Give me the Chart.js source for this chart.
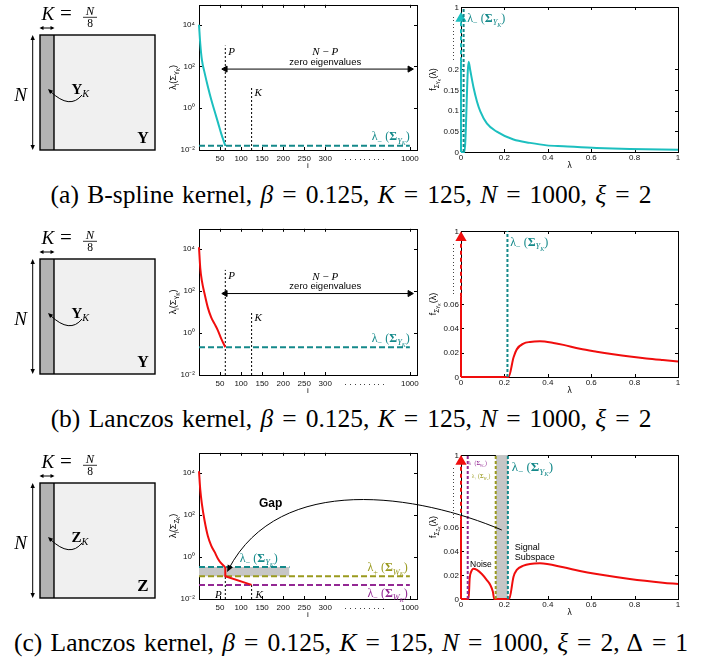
<!DOCTYPE html>
<html lang="en">
<head>
<meta charset="UTF-8" />
<title>Eigenvalue spectra of kernel matrices</title>
<script src="https://cdn.jsdelivr.net/npm/chart.js"></script>
<style>
  body { margin: 0; background: #fff; }
  #page { position: relative; width: 702px; height: 666px; overflow: hidden; }
  #page canvas { position: absolute; }
  .cap {
    position: absolute; left: 0; width: 702px; text-align: center;
    font-family: 'Liberation Serif', 'Times New Roman', serif;
    font-size: 25.5px; line-height: 28px; color: #000; white-space: nowrap; word-spacing: 2px;
  }
  .cap .eq { margin: 0 9px; }
  #overlay { z-index: 5; pointer-events: none; }
</style>
</head>
<body>
<div id="page">
  <canvas id="overlay" width="702" height="666" style="left:0;top:0"></canvas>
  <div class="cap" style="top:181px">(a) B-spline kernel, <i>β</i><span class="eq">=</span>0.125, <i>K</i><span class="eq">=</span>125, <i>N</i><span class="eq">=</span>1000, <i>ξ</i><span class="eq">=</span>2</div>
  <div class="cap" style="top:405px">(b) Lanczos kernel, <i>β</i><span class="eq">=</span>0.125, <i>K</i><span class="eq">=</span>125, <i>N</i><span class="eq">=</span>1000, <i>ξ</i><span class="eq">=</span>2</div>
  <div class="cap" style="top:629px">(c) Lanczos kernel, <i>β</i><span class="eq">=</span>0.125, <i>K</i><span class="eq">=</span>125, <i>N</i><span class="eq">=</span>1000, <i>ξ</i><span class="eq">=</span>2, Δ<span class="eq">=</span>1</div>
</div>

<script>
  // ---- left panels: eigenvalues lambda_i against index i (log y) ----
  const eigI = [0, 3, 7, 13.5, 21, 29, 37, 45, 53, 62.5];
  const eigA = [10000, 1230, 200, 48, 11, 2.6, 0.74, 0.21, 0.059, 0.016];
  const eigB = [12000, 1230, 290, 69, 16, 5.5, 2.7, 1.3, 0.52, 0.21];
  const eigC = [12000, 1580, 316, 50, 10, 3.5, 1.74, 0.83, 0.49, 0.33];
  const tailI = [62.5, 62.5, 125];
  const tailC = [0.33, 0.12, 0.047];

  const P = 62.5, K = 125;
  const N_POS = 501;   // the i axis is broken after 300, i = 1000 sits here
  const xTickVals = [50, 100, 150, 200, 250, 300, N_POS];
  const xTickText = ['50', '100', '150', '200', '250', '300', '1000'];
  const logTickVals = [0.01, 1, 100, 10000];
  const logTickText = ['10⁻²', '10⁰', '10²', '10⁴'];

  const lamMinYa = 0.016, lamMinYb = 0.21, lamMinYc = 0.33;
  const lamPlusWc = 0.12, lamMinWc = 0.046;
  const zeroArrowY = 75;

  // ---- right panels: eigenvalue densities f(lambda) ----
  const lamA = [0, 0.016, 0.035, 0.043, 0.058, 0.0735, 0.089, 0.119, 0.165, 0.242, 0.318, 0.395, 0.472, 0.625, 0.778, 1.0];
  const fA   = [0, 0, 0.218, 0.196, 0.155, 0.122, 0.098, 0.069, 0.049, 0.030, 0.022, 0.016, 0.0139, 0.0098, 0.0073, 0.0057];
  const lamB = [0, 0.219, 0.242, 0.257, 0.288, 0.318, 0.364, 0.426, 0.472, 0.548, 0.625, 0.701, 0.778, 0.854, 0.93, 1.0];
  const fB   = [0, 0, 0.016, 0.0227, 0.0275, 0.0288, 0.0293, 0.028, 0.0264, 0.0232, 0.0208, 0.0187, 0.0168, 0.0152, 0.0139, 0.0128];
  const lamC = [0, 0.035, 0.04, 0.047, 0.058, 0.0735, 0.096, 0.119, 0.135, 0.147, 0.153, 0.222, 0.242, 0.257, 0.288, 0.318, 0.364, 0.472, 0.548, 0.625, 0.778, 0.93, 1.0];
  const fC   = [0, 0, 0.0172, 0.0228, 0.0253, 0.0242, 0.0208, 0.0158, 0.0117, 0.006, 0, 0, 0.0186, 0.0242, 0.0278, 0.0292, 0.0297, 0.0264, 0.0233, 0.0208, 0.0167, 0.0136, 0.0125];

  const edgeA = 0.012, edgeB = 0.214;
  const edgeMinW = 0.031, edgePlusW = 0.16, edgeMinY = 0.216;
  const spikeA = [0, 0.219, 0.322], spikeBC = [0, 0.066, 0.1145];
  const breakA = [0.219, 0.326], breakBC = [0.066, 0.109];
  const denTickA = [0, 0.05, 0.1, 0.15, 0.2, 0.35];
  const denTextA = ['0', '0.05', '0.1', '0.15', '0.2', '1'];
  const denTickBC = [0, 0.02, 0.04, 0.06, 0.12];
  const denTextBC = ['0', '0.02', '0.04', '0.06', '1'];
  const lamTicks = [0, 0.2, 0.4, 0.6, 0.8, 1];
  const lamText = ['0', '0.2', '0.4', '0.6', '0.8', '1'];

  // ---- look ----
  const CYAN = '#1cbfbf', TEAL = '#14898a', RED = '#f00d0d';
  const OLIVE = '#9a9a1e', PURPLE = '#932893', BAND = '#c6c6c6';
  const SERIF = "'Liberation Serif', 'DejaVu Serif', serif";
  const SANS = "'Liberation Sans', Arial, sans-serif";
  const PAD = 8, XH = 24;
  const tickFont = { family: SANS, size: 8, lineHeight: 1.2 };

  // text with sub/superscripts: segs = [text, scale, dy(em), style]
  function rich(ctx, x, y, segs, size, align, color) {
    ctx.save();
    ctx.fillStyle = color || '#000';
    ctx.textBaseline = 'alphabetic';
    ctx.textAlign = 'left';
    const fontOf = s => {
      const st = s[3] || '';
      return (st.includes('i') ? 'italic ' : '') + (st.includes('b') ? 'bold ' : '') +
        (size * (s[1] || 1)) + 'px ' + (st.includes('s') ? SANS : SERIF);
    };
    let w = 0;
    segs.forEach(s => { ctx.font = fontOf(s); w += ctx.measureText(s[0]).width; });
    let cx = align === 'center' ? x - w / 2 : align === 'right' ? x - w : x;
    segs.forEach(s => {
      ctx.font = fontOf(s);
      ctx.fillText(s[0], cx, y + (s[2] || 0) * size);
      cx += ctx.measureText(s[0]).width;
    });
    ctx.restore();
  }

  function vtext(ctx, x, y, segs, size) {
    ctx.save();
    ctx.translate(x, y);
    ctx.rotate(-Math.PI / 2);
    rich(ctx, 0, size * 0.35, segs, size, 'center');
    ctx.restore();
  }

  const lamLabel = (sign, M) => [['λ', 1, 0, ''], [sign, 0.7, 0.28, ''], [' (', 1, 0, ''], ['Σ', 1, 0, 'b'],
    [M, 0.7, 0.28, 'i'], ['K', 0.5, 0.42, 'i'], [')', 1, 0, '']];
  const eigTitle = L => [['λ', 1, 0, 's'], ['i', 0.7, 0.3, 's'], ['(Σ', 1, 0, 's'], [L, 0.7, 0.3, 's'],
    ['K', 0.5, 0.45, 's'], [')', 1, 0, 's']];
  const densTitle = L => [['f', 1, 0, 's'], ['Σ', 0.7, 0.3, 's'], [L, 0.5, 0.45, 's'], ['K', 0.4, 0.55, 's'],
    ['(λ)', 1, 0, 's']];

  // box with inward ticks on all four sides, under the data
  Chart.register({
    id: 'frame',
    beforeDatasetsDraw(c) {
      const { ctx, chartArea: a, scales: { x, y } } = c;
      ctx.save();
      ctx.strokeStyle = '#000';
      ctx.lineWidth = 1;
      ctx.strokeRect(Math.round(a.left) + 0.5, Math.round(a.top) + 0.5, Math.round(a.right - a.left), Math.round(a.bottom - a.top));
      ctx.beginPath();
      x.ticks.forEach(t => {
        const p = Math.round(x.getPixelForValue(t.value)) + 0.5;
        ctx.moveTo(p, a.bottom); ctx.lineTo(p, a.bottom - 3);
        ctx.moveTo(p, a.top); ctx.lineTo(p, a.top + 3);
      });
      y.ticks.forEach(t => {
        const p = Math.round(y.getPixelForValue(t.value)) + 0.5;
        ctx.moveTo(a.left, p); ctx.lineTo(a.left + 3, p);
        ctx.moveTo(a.right, p); ctx.lineTo(a.right - 3, p);
      });
      ctx.stroke();
      ctx.restore();
    }
  });

  const page = document.getElementById('page');
  function mount(l, t, r, b, yW) {
    const c = document.createElement('canvas');
    c.width = yW + (r - l) + PAD;
    c.height = PAD + (b - t) + XH;
    c.style.left = (l - yW) + 'px';
    c.style.top = (t - PAD) + 'px';
    page.appendChild(c);
    return { canvas: c, left: l - yW, top: t - PAD };
  }

  function axis(type, min, max, vals, texts, pad, show = true) {
    return {
      type, min, max,
      grid: { display: false, drawTicks: false }, border: { display: false },
      afterBuildTicks: s => { s.ticks = vals.map(v => ({ value: v })); },
      ticks: { display: show, autoSkip: false, maxRotation: 0, padding: pad, color: '#111', font: tickFont,
        callback: (v, i) => texts[i] }
    };
  }

  const ds = (xs, ys, color, o = {}) => Object.assign({
    data: xs.map((x, i) => ({ x, y: ys[i] })),
    borderColor: color, backgroundColor: color, pointBackgroundColor: color,
    borderWidth: 2, pointRadius: 0, fill: false, clip: false, tension: 0
  }, o);

  function build(box, yW, xAxis, yAxis, datasets, notes) {
    const m = mount(box[0], box[1], box[2], box[3], yW);
    const chart = new Chart(m.canvas, {
      type: 'line',
      data: { datasets },
      options: {
        responsive: false, animation: false, events: [],
        layout: { padding: { top: PAD, right: PAD, left: 0, bottom: 0 } },
        plugins: { legend: { display: false }, tooltip: { enabled: false } },
        scales: {
          x: Object.assign(xAxis, { afterFit: s => { s.height = XH; } }),
          y: Object.assign(yAxis, { afterFit: s => { s.width = yW; } })
        }
      },
      plugins: [{ id: 'notes', afterDatasetsDraw: c => notes(c) }]
    });
    chart.$off = [m.left, m.top];
    return chart;
  }

  const eigX = () => axis('linear', 0, 518, xTickVals, xTickText, 4);
  const eigY = () => axis('logarithmic', 0.01, 90000, logTickVals, logTickText, 4);
  const denX = () => axis('linear', 0, 1, lamTicks, lamText, 1);
  // density y labels are written on the overlay (see below); the scale only places them
  const denY = (max, vals, texts) => axis('linear', 0, max, vals, texts, 2, false);

  function eigenCommon(c, L) {
    const { ctx, chartArea: a, scales: { x } } = c;
    ctx.save();
    ctx.fillStyle = '#444';
    for (let p = x.getPixelForValue(348); p <= x.getPixelForValue(442); p += 4.7) ctx.fillRect(Math.round(p), a.bottom + 9, 1, 1);
    ctx.restore();
    rich(ctx, (a.left + a.right) / 2, a.bottom + 18, [['i', 1, 0, 's']], 8, 'center');
    vtext(ctx, a.left - 26, (a.top + a.bottom) / 2, eigTitle(L), 9);
  }

  function zeroNotes(c, lamMin) {
    const { ctx, scales: { x, y } } = c;
    const X = v => x.getPixelForValue(v), Y = v => y.getPixelForValue(v);
    rich(ctx, X(P) + 3, Y(1000) + 9, [['P', 1, 0, 'i']], 11, 'left');
    rich(ctx, X(K) + 3, Y(10) + 9, [['K', 1, 0, 'i']], 11, 'left');
    rich(ctx, X(300), Y(zeroArrowY) - 14, [['N', 1, 0, 'i'], [' − ', 1, 0, ''], ['P', 1, 0, 'i']], 11, 'center');
    rich(ctx, X(300), Y(zeroArrowY) - 4.5, [['zero eigenvalues', 1, 0, 's']], 9.5, 'center');
    rich(ctx, X(N_POS), Y(lamMin) - 5.5, lamLabel('−', 'Y'), 12, 'right', TEAL);
  }

  function densCommon(c, L, brk) {
    const { ctx, chartArea: a, scales: { y } } = c;
    ctx.save();
    ctx.fillStyle = '#444';
    for (let p = y.getPixelForValue(brk[1]); p <= y.getPixelForValue(brk[0]); p += 3.5) ctx.fillRect(a.left - 8, Math.round(p), 1, 1);
    ctx.restore();
    rich(ctx, (a.left + a.right) / 2, a.bottom + 16, [['λ', 1, 0, 's']], 8.5, 'center');
    vtext(ctx, a.left - 28, (a.top + a.bottom) / 2, densTitle(L), 9);
  }

  const dotted = { borderWidth: 1, borderDash: [2, 2] };
  const zeroArrow = { borderWidth: 1, pointRadius: 3.5, pointStyle: 'triangle', pointRotation: [-90, 90] };
  const spikeOpts = r => ({ pointRadius: [0, 0, r], pointStyle: 'triangle',
    segment: { borderDash: s => s.p0DataIndex === 1 ? [4, 3] : undefined } });

  // ---- row (a) ----
  build([199, 4, 417, 150], 42, eigX(), eigY(), [
    ds([0, N_POS], [lamMinYa, lamMinYa], TEAL, { borderDash: [6, 3] }),
    ds(eigI, eigA, CYAN, { cubicInterpolationMode: 'monotone' }),
    ds([P, P], [0.01, 1000], '#000', dotted),
    ds([K, K], [0.01, 10], '#000', dotted),
    ds([P, N_POS], [zeroArrowY, zeroArrowY], '#000', zeroArrow)
  ], c => { eigenCommon(c, 'Y'); zeroNotes(c, lamMinYa); });

  const denAChart = build([461, 7, 678, 152], 37, denX(), denY(0.35, denTickA, denTextA), [
    ds([edgeA, edgeA], [0, 0.35], TEAL, { borderDash: [3, 2] }),
    ds(lamA, fA, CYAN, { cubicInterpolationMode: 'monotone' }),
    ds([0, 0, 0], spikeA, CYAN, spikeOpts(4.5))
  ], c => {
    densCommon(c, 'Y', breakA);
    rich(c.ctx, c.scales.x.getPixelForValue(0.029), c.chartArea.top + 15, lamLabel('−', 'Y'), 12, 'left', TEAL);
  });

  // ---- row (b) ----
  build([199, 228, 417, 375], 42, eigX(), eigY(), [
    ds([0, N_POS], [lamMinYb, lamMinYb], TEAL, { borderDash: [6, 3] }),
    ds(eigI, eigB, RED, { cubicInterpolationMode: 'monotone' }),
    ds([P, P], [0.01, 1000], '#000', dotted),
    ds([K, K], [0.01, 10], '#000', dotted),
    ds([P, N_POS], [zeroArrowY, zeroArrowY], '#000', zeroArrow)
  ], c => { eigenCommon(c, 'Y'); zeroNotes(c, lamMinYb); });

  const denBChart = build([461, 231, 678, 377], 37, denX(), denY(0.12, denTickBC, denTextBC), [
    ds([edgeB, edgeB], [0, 0.12], TEAL, { borderDash: [3, 2] }),
    ds(lamB, fB, RED, { cubicInterpolationMode: 'monotone' }),
    ds([0, 0, 0], spikeBC, RED, spikeOpts(4.5))
  ], c => {
    densCommon(c, 'Y', breakBC);
    rich(c.ctx, c.scales.x.getPixelForValue(0.2266), c.chartArea.top + 15, lamLabel('−', 'Y'), 12, 'left', TEAL);
  });

  // ---- row (c) ----
  const eigCChart = build([199, 452, 417, 599], 42, eigX(), eigY(), [
    ds(eigI, eigC, RED, { cubicInterpolationMode: 'monotone' }),
    ds(tailI, tailC, RED),
    ds([0, 215], [lamMinYc, lamMinYc], TEAL, { borderDash: [6, 3] }),
    ds([0, N_POS], [lamPlusWc, lamPlusWc], OLIVE, { borderDash: [6, 3] }),
    ds([0, N_POS], [lamMinWc, lamMinWc], PURPLE, { borderDash: [6, 3] }),
    ds([P, P], [0.01, lamPlusWc], '#000', dotted),
    ds([K, K], [0.01, tailC[2]], '#000', dotted),
    ds([0, 215], [lamMinYc, lamMinYc], 'rgba(0,0,0,0)', { borderWidth: 0, fill: { value: lamPlusWc }, backgroundColor: BAND })
  ], c => {
    eigenCommon(c, 'Z');
    const { ctx, scales: { x, y } } = c;
    const X = v => x.getPixelForValue(v), Y = v => y.getPixelForValue(v);
    rich(ctx, X(P) - 3.5, Y(0.01) - 1, [['P', 1, 0, 'i']], 11, 'right');
    rich(ctx, X(K) + 4, Y(0.01) - 1, [['K', 1, 0, 'i']], 11, 'left');
    rich(ctx, X(97), Y(lamMinYc) - 5, lamLabel('−', 'Y'), 12, 'left', TEAL);
    rich(ctx, X(N_POS) - 2, Y(lamPlusWc) - 5, lamLabel('+', 'W'), 12, 'right', OLIVE);
    rich(ctx, X(N_POS) - 2, Y(lamMinWc) + 12, lamLabel('−', 'W'), 12, 'right', PURPLE);
    rich(ctx, X(170), Y(370) + 4, [['Gap', 1, 0, 'sb']], 12, 'center');
  });

  const denCChart = build([461, 455, 678, 599], 37, denX(), denY(0.12, denTickBC, denTextBC), [
    ds([edgeMinW, edgeMinW], [0, 0.12], PURPLE, { borderDash: [3, 2] }),
    ds([edgePlusW, edgePlusW], [0, 0.12], OLIVE, { borderDash: [3, 2] }),
    ds([edgeMinY, edgeMinY], [0, 0.12], TEAL, { borderDash: [3, 2] }),
    ds(lamC, fC, RED, { cubicInterpolationMode: 'monotone' }),
    ds([0, 0, 0], spikeBC, RED, spikeOpts(4.5)),
    ds([edgePlusW, edgeMinY], [0.12, 0.12], 'rgba(0,0,0,0)', { borderWidth: 0, fill: 'origin', backgroundColor: BAND })
  ], c => {
    densCommon(c, 'Z', breakBC);
    const { ctx, scales: { x, y } } = c;
    const X = v => x.getPixelForValue(v), Y = v => y.getPixelForValue(v);
    rich(ctx, X(0.234), c.chartArea.top + 16, lamLabel('−', 'Y'), 13, 'left', TEAL);
    rich(ctx, X(0.034), c.chartArea.top + 10, lamLabel('−', 'W'), 5.5, 'left', PURPLE);
    rich(ctx, X(0.05), c.chartArea.top + 23, lamLabel('+', 'W'), 5.5, 'left', OLIVE);
    rich(ctx, X(0.092), Y(0.027), [['Noise', 1, 0, 's']], 8.5, 'center');
    rich(ctx, X(0.248), Y(0.0408), [['Signal', 1, 0, 's']], 9, 'left');
    rich(ctx, X(0.248), Y(0.0325), [['Subspace', 1, 0, 's']], 9, 'left');
  });

  // ---- overlay: matrix sketches, density y labels and the "Gap" arrow ----
  const ov = document.getElementById('overlay').getContext('2d');
  const pagePt = (ch, xv, yv) => [ch.$off[0] + ch.scales.x.getPixelForValue(xv), ch.$off[1] + ch.scales.y.getPixelForValue(yv)];

  function head(ctx, x, y, ang, len, wid) {
    const c = Math.cos(ang), s = Math.sin(ang);
    ctx.beginPath();
    ctx.moveTo(x, y);
    ctx.lineTo(x - len * c + wid * s, y - len * s - wid * c);
    ctx.lineTo(x - len * c - wid * s, y - len * s + wid * c);
    ctx.closePath();
    ctx.fill();
  }

  function sketch(ctx, oy, L) {
    ctx.save();
    ctx.translate(0, oy);
    ctx.fillStyle = '#f0f0f0'; ctx.fillRect(40, 35, 115, 115);
    ctx.fillStyle = '#b3b3b3'; ctx.fillRect(40, 35, 14, 115);
    ctx.strokeStyle = '#000'; ctx.fillStyle = '#000'; ctx.lineWidth = 1.4;
    ctx.strokeRect(40, 35, 115, 115);
    ctx.beginPath(); ctx.moveTo(54, 35); ctx.lineTo(54, 150); ctx.stroke();
    ctx.lineWidth = 1;
    ctx.beginPath(); ctx.moveTo(41, 28); ctx.lineTo(53, 28); ctx.stroke();
    head(ctx, 39.5, 28, Math.PI, 4, 2); head(ctx, 54.5, 28, 0, 4, 2);
    ctx.beginPath(); ctx.moveTo(32.7, 38); ctx.lineTo(32.7, 147); ctx.stroke();
    head(ctx, 32.7, 35, -Math.PI / 2, 5, 2.2); head(ctx, 32.7, 150, Math.PI / 2, 5, 2.2);
    rich(ctx, 41.5, 20, [['K', 1, 0, 'i']], 19, 'left');
    rich(ctx, 60, 20, [['=', 1, 0, '']], 21, 'left');
    rich(ctx, 90, 14.5, [['N', 1, 0, 'i']], 12.5, 'center');
    ctx.lineWidth = 0.8;
    ctx.beginPath(); ctx.moveTo(83, 17.3); ctx.lineTo(97, 17.3); ctx.stroke();
    rich(ctx, 90, 27, [['8', 1, 0, '']], 11.5, 'center');
    rich(ctx, 20.5, 101, [['N', 1, 0, 'i']], 19, 'center');
    rich(ctx, 71.5, 94, [[L, 1, 0, 'b'], ['K', 0.68, 0.18, 'i']], 15, 'left');
    ctx.lineWidth = 1;
    ctx.beginPath(); ctx.moveTo(82, 95); ctx.quadraticCurveTo(70, 110, 50.5, 91.5); ctx.stroke();
    head(ctx, 48, 89, Math.atan2(-20, -21), 5, 2.2);
    rich(ctx, 143, 143, [[L, 1, 0, 'b']], L === 'Z' ? 17 : 16, 'center');
    ctx.restore();
  }

  sketch(ov, 0, 'Y');
  sketch(ov, 224, 'Y');
  sketch(ov, 448, 'Z');

  function densLabels(ch, vals, texts) {
    ov.save();
    ov.fillStyle = '#111';
    ov.font = '8px ' + SANS;
    ov.textAlign = 'right';
    ov.textBaseline = 'middle';
    vals.forEach((v, i) => {
      const p = pagePt(ch, 0, v);
      ov.fillText(texts[i], p[0] - 2, p[1] + 0.5);
    });
    ov.restore();
  }
  densLabels(denAChart, denTickA, denTextA);
  densLabels(denBChart, denTickBC, denTextBC);
  densLabels(denCChart, denTickBC, denTextBC);

  const s0 = pagePt(denCChart, 0.188, 0.0575);
  const e0 = pagePt(eigCChart, 66.7, 0.19);
  const c1 = [s0[0] - 82, s0[1] - 35], c2 = [e0[0] + 53, e0[1] - 101];
  ov.strokeStyle = '#000'; ov.fillStyle = '#000'; ov.lineWidth = 1;
  ov.beginPath();
  ov.moveTo(s0[0], s0[1]);
  ov.bezierCurveTo(c1[0], c1[1], c2[0], c2[1], e0[0] + 1.5, e0[1] - 3);
  ov.stroke();
  head(ov, e0[0], e0[1], Math.atan2(e0[1] - c2[1], e0[0] - c2[0]), 7, 3);
</script>
</body>
</html>
